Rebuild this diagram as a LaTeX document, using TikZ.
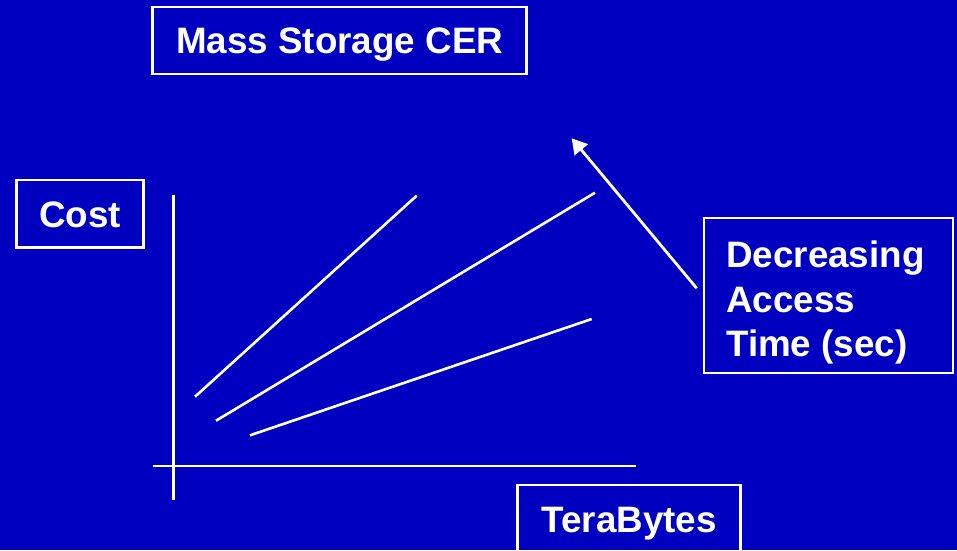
\documentclass[tikz,border=0pt]{standalone}
\usepackage{fontspec}
\setmainfont{Liberation Sans}
\usetikzlibrary{arrows.meta}
\definecolor{bgblue}{RGB}{0,0,192}
\tikzset{
  lbl/.style={font=\bfseries\fontsize{36.8}{44.5}\selectfont, text=white, inner sep=0pt},
  wbox/.style={draw=white, line width=2.6pt, inner sep=0pt, font=\bfseries\fontsize{36.8}{44.5}\selectfont, text=white, text height=27pt, text depth=0pt},
  ln/.style={draw=white, line width=2.6pt},
}
\begin{document}
\begin{tikzpicture}[x=1pt,y=-1pt]
\fill[bgblue] (0,0) rectangle (957,550);
\useasboundingbox (0,0) rectangle (957,550);
% boxes
\node[wbox, minimum width=374pt, minimum height=67pt] (title) at (339.7,40.4) {Mass Storage CER};
\node[wbox, minimum width=126.6pt, minimum height=67.7pt] (cost) at (80,213.9) {Cost};
\node[wbox, minimum width=223pt, minimum height=95pt, text depth=28pt] (tb) at (629.2,532.5) {TeraBytes};
\node[draw=white, line width=2.6pt, minimum width=249pt, minimum height=155pt, inner sep=0pt] (dbox) at (828.5,295.5) {};
\node[lbl, anchor=north west, align=left] (dlabel) at (726,241) {Decreasing\\Access\\Time (sec)};
% axes
\coordinate (vtop) at (173.3,195);
\coordinate (vbot) at (173.3,500);
\coordinate (hl) at (153,466);
\coordinate (hr) at (636,466);
\draw[ln] (vtop) -- (vbot);
\draw[ln] (hl) -- (hr);
% curves
\coordinate (a1) at (195,396.7);
\coordinate (a2) at (416.7,195.7);
\coordinate (b1) at (216,420.7);
\coordinate (b2) at (595,192.7);
\coordinate (c1) at (250,435.3);
\coordinate (c2) at (591.7,319);
\draw[ln] (a1) -- (a2);
\draw[ln] (b1) -- (b2);
\draw[ln] (c1) -- (c2);
% arrow
\coordinate (arS) at (696.7,288.3);
\coordinate (arE) at (571.7,138.3);
\draw[ln, line width=2.8pt, -{Triangle[length=15pt,width=17pt]}] (arS) -- (arE);
\end{tikzpicture}
\end{document}
